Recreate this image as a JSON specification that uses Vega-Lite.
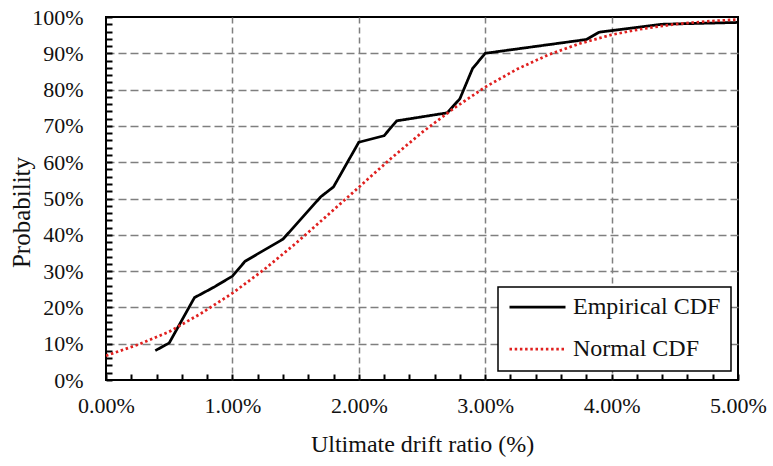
{
  "$schema": "https://vega.github.io/schema/vega-lite/v6.json",
  "autosize": "none",
  "padding": {"left": 106, "top": 17, "right": 35, "bottom": 86},
  "width": 632,
  "height": 363,
  "background": "white",
  "config": {
    "view": {"stroke": "black", "strokeWidth": 2},
    "font": "Liberation Serif",
    "axis": {
      "labelFont": "Liberation Serif",
      "titleFont": "Liberation Serif",
      "labelColor": "#111",
      "titleColor": "#111",
      "titleFontWeight": "normal",
      "domain": false,
      "ticks": true,
      "tickColor": "black",
      "tickWidth": 2,
      "gridColor": "#7f7f7f",
      "gridWidth": 1.5
    },
    "legend": {
      "labelFont": "Liberation Serif",
      "strokeColor": "black",
      "strokeWidth": 1.5,
      "fillColor": "white",
      "padding": 10,
      "symbolType": "stroke",
      "symbolSize": 3136,
      "symbolStrokeWidth": 2.75,
      "clipHeight": 20,
      "rowPadding": 18,
      "labelFontSize": 24,
      "labelColor": "#111",
      "labelOffset": 6
    }
  },
  "data": {
    "values": [
      {"series": "Empirical CDF", "x": 0.0039, "y": 0.081},
      {"series": "Empirical CDF", "x": 0.0050, "y": 0.102},
      {"series": "Empirical CDF", "x": 0.0070, "y": 0.227},
      {"series": "Empirical CDF", "x": 0.0085, "y": 0.255},
      {"series": "Empirical CDF", "x": 0.0100, "y": 0.286},
      {"series": "Empirical CDF", "x": 0.0110, "y": 0.327},
      {"series": "Empirical CDF", "x": 0.0140, "y": 0.388},
      {"series": "Empirical CDF", "x": 0.0170, "y": 0.505},
      {"series": "Empirical CDF", "x": 0.0180, "y": 0.532},
      {"series": "Empirical CDF", "x": 0.0200, "y": 0.655},
      {"series": "Empirical CDF", "x": 0.0220, "y": 0.673},
      {"series": "Empirical CDF", "x": 0.0230, "y": 0.714},
      {"series": "Empirical CDF", "x": 0.0270, "y": 0.736},
      {"series": "Empirical CDF", "x": 0.0280, "y": 0.775},
      {"series": "Empirical CDF", "x": 0.0290, "y": 0.858},
      {"series": "Empirical CDF", "x": 0.0300, "y": 0.900},
      {"series": "Empirical CDF", "x": 0.0380, "y": 0.938},
      {"series": "Empirical CDF", "x": 0.0390, "y": 0.958},
      {"series": "Empirical CDF", "x": 0.0440, "y": 0.980},
      {"series": "Empirical CDF", "x": 0.0500, "y": 0.985},
      {"series": "Normal CDF", "x": 0.0000, "y": 0.067},
      {"series": "Normal CDF", "x": 0.0025, "y": 0.097},
      {"series": "Normal CDF", "x": 0.0050, "y": 0.133},
      {"series": "Normal CDF", "x": 0.0075, "y": 0.183},
      {"series": "Normal CDF", "x": 0.0100, "y": 0.239},
      {"series": "Normal CDF", "x": 0.0125, "y": 0.304},
      {"series": "Normal CDF", "x": 0.0150, "y": 0.376},
      {"series": "Normal CDF", "x": 0.0175, "y": 0.453},
      {"series": "Normal CDF", "x": 0.0200, "y": 0.531},
      {"series": "Normal CDF", "x": 0.0225, "y": 0.609},
      {"series": "Normal CDF", "x": 0.0250, "y": 0.682},
      {"series": "Normal CDF", "x": 0.0275, "y": 0.748},
      {"series": "Normal CDF", "x": 0.0300, "y": 0.807},
      {"series": "Normal CDF", "x": 0.0325, "y": 0.856},
      {"series": "Normal CDF", "x": 0.0350, "y": 0.896},
      {"series": "Normal CDF", "x": 0.0375, "y": 0.927},
      {"series": "Normal CDF", "x": 0.0400, "y": 0.951},
      {"series": "Normal CDF", "x": 0.0425, "y": 0.968},
      {"series": "Normal CDF", "x": 0.0450, "y": 0.980},
      {"series": "Normal CDF", "x": 0.0475, "y": 0.988},
      {"series": "Normal CDF", "x": 0.0500, "y": 0.993}
    ]
  },
  "mark": {"type": "line", "strokeWidth": 2.75, "clip": true},
  "encoding": {
    "x": {
      "field": "x",
      "type": "quantitative",
      "scale": {"domain": [0, 0.05], "nice": false, "zero": false},
      "axis": {
        "title": "Ultimate drift ratio (%)",
        "titleFontSize": 24,
        "titleY": 71,
        "titleBaseline": "alphabetic",
        "format": ".2%",
        "values": [0, 0.002, 0.004, 0.006, 0.008, 0.01, 0.012, 0.014, 0.016, 0.018, 0.02, 0.022, 0.024, 0.026, 0.028, 0.03, 0.032, 0.034, 0.036, 0.038, 0.04, 0.042, 0.044, 0.046, 0.048, 0.05],
        "labelExpr": "round(datum.value*500) % 5 == 0 ? datum.label : ''",
        "labelFontSize": 22,
        "labelPadding": 21,
        "labelFlush": false,
        "labelOverlap": false,
        "tickSize": -6,
        "grid": true,
        "gridDash": [6, 4],
        "gridOpacity": {"condition": {"test": "round(datum.value*500) % 5 == 0 && datum.value > 0.0001 && datum.value < 0.0499", "value": 1}, "value": 0}
      }
    },
    "y": {
      "field": "y",
      "type": "quantitative",
      "scale": {"domain": [0, 1], "nice": false},
      "axis": {
        "title": "Probability",
        "titleFontSize": 25,
        "titleAngle": -90,
        "titleX": -77,
        "titleY": 195,
        "titleAlign": "center",
        "titleBaseline": "alphabetic",
        "format": ".0%",
        "values": [0, 0.02, 0.04, 0.06, 0.08, 0.1, 0.12, 0.14, 0.16, 0.18, 0.2, 0.22, 0.24, 0.26, 0.28, 0.3, 0.32, 0.34, 0.36, 0.38, 0.4, 0.42, 0.44, 0.46, 0.48, 0.5, 0.52, 0.54, 0.56, 0.58, 0.6, 0.62, 0.64, 0.66, 0.68, 0.7, 0.72, 0.74, 0.76, 0.78, 0.8, 0.82, 0.84, 0.86, 0.88, 0.9, 0.92, 0.94, 0.96, 0.98, 1],
        "labelExpr": "round(datum.value*50) % 5 == 0 ? datum.label : ''",
        "labelFontSize": 22,
        "labelPadding": 29,
        "labelFlush": false,
        "labelOverlap": false,
        "tickSize": -6,
        "grid": true,
        "gridDash": [8, 4],
        "gridOpacity": {"condition": {"test": "round(datum.value*50) % 5 == 0 && datum.value > 0.001 && datum.value < 0.999", "value": 1}, "value": 0}
      }
    },
    "color": {
      "field": "series",
      "type": "nominal",
      "scale": {"domain": ["Empirical CDF", "Normal CDF"], "range": ["black", "#e0201f"]},
      "legend": {"title": null, "orient": "none", "legendX": 392, "legendY": 270, "direction": "vertical"}
    },
    "strokeDash": {
      "field": "series",
      "type": "nominal",
      "scale": {"domain": ["Empirical CDF", "Normal CDF"], "range": [[1, 0], [2.5, 2.7]]},
      "legend": {"title": null, "orient": "none", "legendX": 392, "legendY": 270, "direction": "vertical"}
    }
  }
}
